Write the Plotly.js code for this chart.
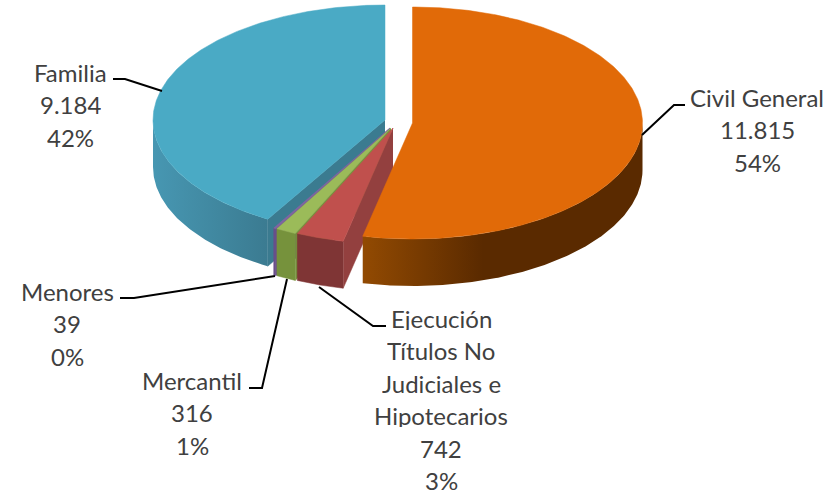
<!DOCTYPE html>
<html><head><meta charset="utf-8">
<script src="https://cdn.plot.ly/plotly-3.0.1.min.js"></script>
<style>html,body{margin:0;padding:0;background:#fff}#c{width:840px;height:493px}</style>
</head><body><div id="c"></div>
<script>
// ---- chart data ----
const categories = ["Civil General", "Ejecución Títulos No Judiciales e Hipotecarios", "Mercantil", "Menores", "Familia"];
const values = [11815, 742, 316, 39, 9184];
const valueLabels = ["11.815", "742", "316", "39", "9.184"];
const percentLabels = ["54%", "3%", "1%", "0%", "42%"];
const labelLines = [["Civil General"], ["Ejecución", "Títulos No", "Judiciales e", "Hipotecarios"], ["Mercantil"], ["Menores"], ["Familia"]];

// ---- styles ----
const topColors = ["#e16a08", "#c0504d", "#9bbb59", "#8064a2", "#4aaac5"];
const wallScales = [
  [[0, "#924a02"], [0.43, "#5a2a00"], [1, "#5a2a00"]],
  null, null, null,
  [[0, "#4797b2"], [1, "#3b7b91"]]
];
const wallColors = ["#5a2a00", "#7f3535", "#76923c", "#6a4f8a", "#3b7b91"];
const faceColors = ["#8a4500", "#93403f", "#76923c", "#6a4f8a", "#3b7b90"];
const centerX = [412.5, 393, 391, 390, 385];
const centerY = [123, 128, 128, 128, 120];
const radiusX = [230, 230, 230, 230, 232];
const radiusY = [116, 116, 116, 116, 115];
const depth = 47;
const labelX = [757, 441, 192, 67, 70];
const labelY = [97, 318, 380, 291, 72];
const lineGap = 32.4;
const leaderX = [[642, 674, 685], [319, 373, 386], [287, 262, 249], [275, 134, 120], [162, 125, 113]];
const leaderY = [[135, 105, 105], [287, 326, 326], [279, 388, 388], [276, 298, 298], [91, 79, 79]];
const drawOrder = [4, 3, 2, 1, 0];

// ---- build ----
const total = values.reduce((a, b) => a + b, 0);
let acc = 0;
const startA = [], endA = [];
values.forEach(v => { startA.push(acc / total * 2 * Math.PI); acc += v; endA.push(acc / total * 2 * Math.PI); });
const px = (i, t) => centerX[i] + radiusX[i] * Math.sin(t);
const py = (i, t) => centerY[i] - radiusY[i] * Math.cos(t);
function arc(i, a, b) {
  const n = Math.max(2, Math.ceil(Math.abs(b - a) / 0.01)), xs = [], ys = [];
  for (let k = 0; k <= n; k++) { const t = a + (b - a) * k / n; xs.push(px(i, t)); ys.push(py(i, t)); }
  return [xs, ys];
}
const traces = [];
function poly(xs, ys, color, scale) {
  const tr = { type: "scatter", mode: "lines", x: xs, y: ys, fill: "toself", hoverinfo: "skip",
    line: { width: 0.5, color: color }, fillcolor: color };
  if (scale) { tr.fillgradient = { type: "horizontal", colorscale: scale }; tr.line.width = 0; }
  traces.push(tr);
}
drawOrder.forEach(i => {
  const a = startA[i], b = endA[i];
  // cut face at the slice's starting edge (faces the viewer for the front slices)
  if (a > Math.PI / 2 && a < 1.5 * Math.PI) {
    poly([centerX[i], px(i, a), px(i, a), centerX[i]],
         [centerY[i], py(i, a), py(i, a) + depth, centerY[i] + depth], faceColors[i]);
  }
  // outer wall: the part of the rim in front
  const wa = Math.max(a, Math.PI / 2), wb = Math.min(b, 1.5 * Math.PI);
  if (wb > wa) {
    const [xs, ys] = arc(i, wa, wb);
    const rx = xs.slice().reverse(), ry = ys.slice().reverse().map(y => y + depth);
    poly(xs.concat(rx), ys.concat(ry), wallColors[i], wallScales[i]);
  }
  // top
  const [tx, ty] = arc(i, a, b);
  poly([centerX[i]].concat(tx, [centerX[i]]), [centerY[i]].concat(ty, [centerY[i]]), topColors[i]);
});
// leader lines
categories.forEach((c, i) => traces.push({ type: "scatter", mode: "lines", x: leaderX[i], y: leaderY[i],
  hoverinfo: "skip", line: { color: "#000000", width: 2 } }));
// labels
const annotations = [];
categories.forEach((c, i) => {
  const lines = labelLines[i].concat([valueLabels[i], percentLabels[i]]);
  lines.forEach((t, k) => annotations.push({ x: labelX[i], y: labelY[i] + k * lineGap, text: t, showarrow: false,
    xanchor: "center", yanchor: "middle", height: 24, valign: "middle",
    font: { family: "Lato, sans-serif", size: 24, color: "#404040" } }));
});
Plotly.newPlot("c", traces, {
  width: 840, height: 493, margin: { l: 0, r: 0, t: 0, b: 0 }, showlegend: false, hovermode: false,
  paper_bgcolor: "#ffffff", plot_bgcolor: "#ffffff",
  xaxis: { range: [0, 840], visible: false, fixedrange: true },
  yaxis: { range: [493, 0], visible: false, fixedrange: true },
  annotations: annotations
}, { staticPlot: true, displayModeBar: false });
</script></body></html>
